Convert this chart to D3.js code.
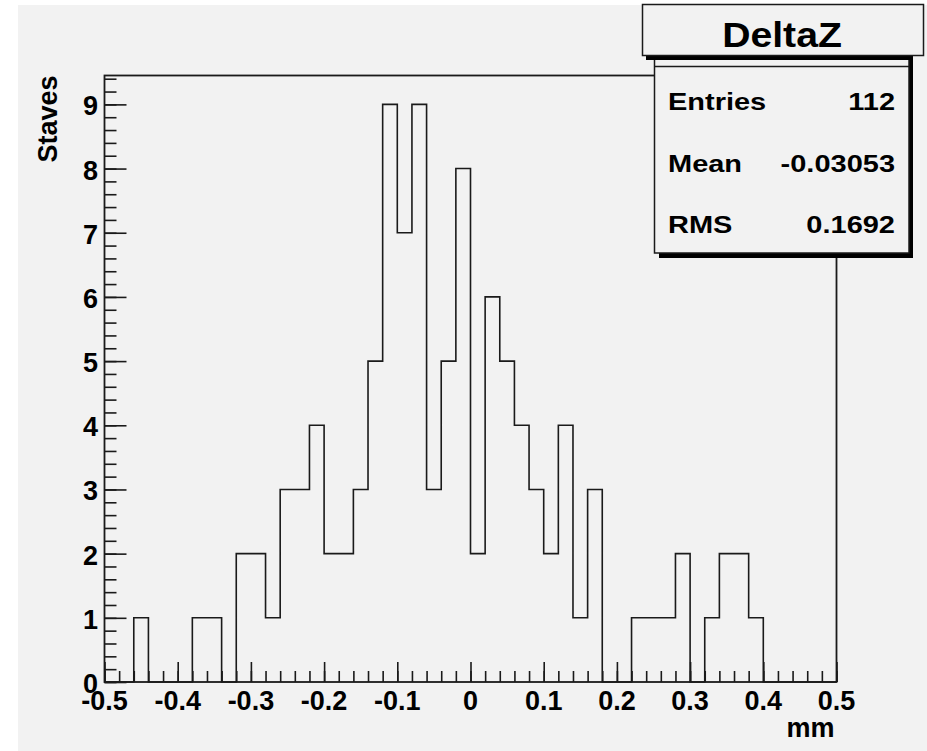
<!DOCTYPE html>
<html>
<head>
<meta charset="utf-8">
<script src="https://cdn.jsdelivr.net/npm/d3@7"></script>
<style>
  html, body { margin: 0; padding: 0; background: #ffffff; }
  svg { display: block; }
  text { font-family: "Liberation Sans", Arial, Helvetica, sans-serif; font-weight: bold; fill: #000; }
</style>
</head>
<body>
<svg id="chart" width="927" height="751"></svg>
<script>
// ---- data ----
const histTitle = "DeltaZ";
const xTitle = "mm";
const yTitle = "Staves";
const xMin = -0.5;
const xMax = 0.5;
const binWidth = 0.02;
const counts = [0, 0, 1, 0, 0, 0, 1, 1, 0, 2,
                2, 1, 3, 3, 4, 2, 2, 3, 5, 9,
                7, 9, 3, 5, 8, 2, 6, 5, 4, 3,
                2, 4, 1, 3, 0, 0, 1, 1, 1, 2,
                0, 1, 2, 2, 1, 0, 0, 0, 0, 0];
const xTickValues = [-0.5, -0.4, -0.3, -0.2, -0.1, 0, 0.1, 0.2, 0.3, 0.4, 0.5];
const xTickLabels = ["-0.5", "-0.4", "-0.3", "-0.2", "-0.1", "0", "0.1", "0.2", "0.3", "0.4", "0.5"];
const yTickValues = [0, 1, 2, 3, 4, 5, 6, 7, 8, 9];
const yTickLabels = ["0", "1", "2", "3", "4", "5", "6", "7", "8", "9"];
const statNames = ["Entries", "Mean", "RMS"];
const statValues = ["112", "-0.03053", "0.1692"];
const yMaxDisplay = 9.45;

// ---- layout ----
const svg = d3.select("#chart");
const frame = { left: 104.5, right: 836.5, top: 75.5, bottom: 682 };
const x = d3.scaleLinear().domain([xMin, xMax]).range([frame.left, frame.right]);
const y = d3.scaleLinear().domain([0, yMaxDisplay]).range([frame.bottom, frame.top]);
const ink = "#1a1a1a";

// canvas background
svg.append("rect").attr("x", 18).attr("y", 5).attr("width", 909).attr("height", 746).attr("fill", "#f2f2f2");

// histogram outline (step)
const pts = [[x(xMin), y(0)]];
counts.forEach((c, i) => {
  const lo = xMin + i * binWidth, hi = xMin + (i + 1) * binWidth;
  pts.push([x(lo), y(c)], [x(hi), y(c)]);
});
pts.push([x(xMax), y(0)]);
svg.append("path").attr("d", d3.line()(pts)).attr("fill", "none")
  .attr("stroke", ink).attr("stroke-width", 1.6);

// frame
svg.append("rect").attr("x", frame.left).attr("y", frame.top)
  .attr("width", frame.right - frame.left).attr("height", frame.bottom - frame.top)
  .attr("fill", "none").attr("stroke", ink).attr("stroke-width", 1.8);

// x axis ticks (inside, pointing up)
const xMinor = d3.range(0, 51).map(i => xMin + i * 0.02);
const xAxisMinor = d3.axisBottom(x).tickValues(xMinor).tickSize(-11).tickFormat("");
const xAxisMajor = d3.axisBottom(x).tickValues(xTickValues).tickSize(-20).tickFormat("");
[xAxisMinor, xAxisMajor].forEach(ax => {
  const g = svg.append("g").attr("transform", `translate(0,${frame.bottom})`).call(ax);
  g.select(".domain").remove();
  g.selectAll("line").attr("stroke", ink).attr("stroke-width", 1.6);
});
svg.append("g").selectAll("text").data(xTickValues).join("text")
  .attr("x", d => x(d)).attr("y", 710).attr("text-anchor", "middle")
  .attr("font-size", 27).text((d, i) => xTickLabels[i]);

// y axis ticks (inside, pointing right)
const yMinor = d3.range(0, 48).map(i => i * 0.2).filter(v => v <= yMaxDisplay);
const yAxisMinor = d3.axisLeft(y).tickValues(yMinor).tickSize(-12).tickFormat("");
const yAxisMajor = d3.axisLeft(y).tickValues(yTickValues).tickSize(-22).tickFormat("");
[yAxisMinor, yAxisMajor].forEach(ax => {
  const g = svg.append("g").attr("transform", `translate(${frame.left},0)`).call(ax);
  g.select(".domain").remove();
  g.selectAll("line").attr("stroke", ink).attr("stroke-width", 1.6);
});
svg.append("g").selectAll("text").data(yTickValues).join("text")
  .attr("x", 98).attr("y", d => y(d) + 11).attr("text-anchor", "end")
  .attr("font-size", 27).text((d, i) => yTickLabels[i]);

// axis titles
svg.append("text").attr("x", 834.5).attr("y", 737).attr("text-anchor", "end")
  .attr("font-size", 27).text(xTitle);
svg.append("text").attr("transform", `translate(56.5,${frame.top}) rotate(-90)`)
  .attr("text-anchor", "end").attr("font-size", 27).text(yTitle);

// stats box
svg.append("rect").attr("x", 909).attr("y", 58).attr("width", 4).attr("height", 200).attr("fill", "#000");
svg.append("rect").attr("x", 659).attr("y", 253).attr("width", 254).attr("height", 5).attr("fill", "#000");
svg.append("rect").attr("x", 654.5).attr("y", 58).attr("width", 254.5).attr("height", 195)
  .attr("fill", "#f2f2f2").attr("stroke", ink).attr("stroke-width", 1.5);
svg.append("line").attr("x1", 654.5).attr("x2", 909).attr("y1", 66.5).attr("y2", 66.5)
  .attr("stroke", ink).attr("stroke-width", 1.5);
const rowBase = [110, 172, 233];
statNames.forEach((n, i) => {
  svg.append("text").attr("transform", `translate(668,${rowBase[i]}) scale(1.26,1)`)
    .attr("font-size", 23).text(n);
  svg.append("text").attr("transform", `translate(895,${rowBase[i]}) scale(1.26,1)`)
    .attr("text-anchor", "end").attr("font-size", 23).text(statValues[i]);
});

// title box
svg.append("rect").attr("x", 646).attr("y", 55).attr("width", 267).attr("height", 5).attr("fill", "#000");
svg.append("rect").attr("x", 642.5).attr("y", 4.5).attr("width", 281).attr("height", 51)
  .attr("fill", "#f2f2f2").attr("stroke", ink).attr("stroke-width", 1.5);
svg.append("text").attr("transform", "translate(782,46.5) scale(1.12,1)")
  .attr("text-anchor", "middle").attr("font-size", 35).text(histTitle);
</script>
</body>
</html>
